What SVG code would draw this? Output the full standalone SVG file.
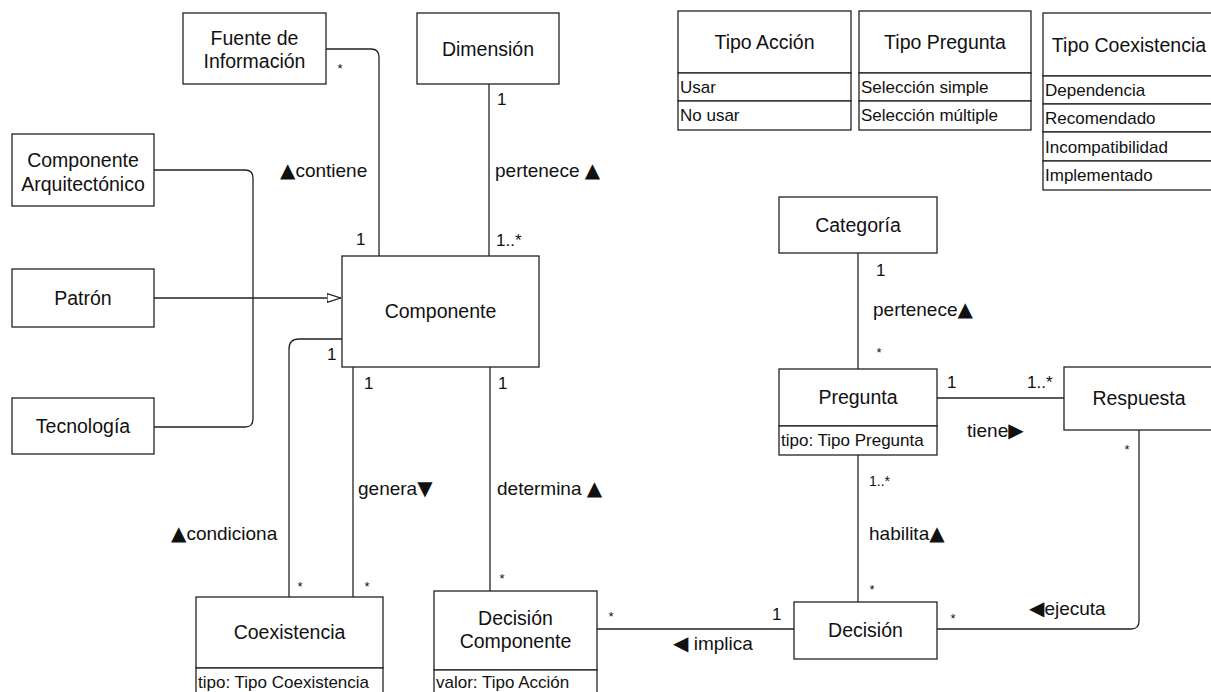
<svg xmlns="http://www.w3.org/2000/svg" width="1211" height="692" viewBox="0 0 1211 692">
  <style>
    text { font-family: "Liberation Sans", Arial, "DejaVu Sans", sans-serif; fill: #111; }
    .box { fill: #fff; stroke: #222; stroke-width: 1.3; }
    .title { font-size: 19.5px; text-anchor: middle; }
    .attr { font-size: 17px; }
    .lbl { font-size: 19px; }
    .card { font-size: 17px; }
    .small { font-size: 14px; }
    .star { font-size: 13px; text-anchor: middle; }
    .tri { font-family: "DejaVu Sans", sans-serif; font-size: 20px; }
    .edge { fill: none; stroke: #222; stroke-width: 1.3; }
  </style>
  <defs>
    <marker id="gen" viewBox="0 0 14 10" refX="14" refY="5" markerWidth="14" markerHeight="10" markerUnits="userSpaceOnUse" orient="auto">
      <path d="M0,0.5 L13.5,5 L0,9.5 Z" fill="#fff" stroke="#222" stroke-width="1.2"/>
    </marker>
  </defs>

  <rect width="1211" height="692" fill="#fff"/>

  <!-- connectors -->
  <g id="connectors">
    <path class="edge" d="M326,49 H371 Q379,49 379,57 V256"/>
    <path class="edge" d="M489,84 V256"/>
    <path class="edge" d="M154,170 H245 Q253,170 253,178 V419 Q253,427 245,427 H154"/>
    <path class="edge" d="M154,298 H341" marker-end="url(#gen)"/>
    <path class="edge" d="M342,339 H299 Q289,339 289,349 V597"/>
    <path class="edge" d="M353,367 V597"/>
    <path class="edge" d="M490,367 V591"/>
    <path class="edge" d="M597,629 H794"/>
    <path class="edge" d="M858,253 V369"/>
    <path class="edge" d="M858,455 V602"/>
    <path class="edge" d="M937,398 H1064"/>
    <path class="edge" d="M937,629 H1131 Q1139,629 1139,621 V430"/>

    <!-- association labels -->
    <text class="lbl" x="280" y="177"><tspan class="tri">▲</tspan>contiene</text>
    <text class="lbl" x="495" y="177">pertenece <tspan class="tri">▲</tspan></text>
    <text class="lbl" x="873" y="316">pertenece<tspan class="tri">▲</tspan></text>
    <text class="lbl" x="967" y="437">tiene<tspan class="tri">▶</tspan></text>
    <text class="lbl" x="869" y="540">habilita<tspan class="tri">▲</tspan></text>
    <text class="lbl" x="1029" y="615"><tspan class="tri">◀</tspan>ejecuta</text>
    <text class="lbl" x="673" y="650"><tspan class="tri">◀</tspan> implica</text>
    <text class="lbl" x="171" y="540"><tspan class="tri">▲</tspan>condiciona</text>
    <text class="lbl" x="358" y="495">genera<tspan class="tri">▼</tspan></text>
    <text class="lbl" x="497" y="495">determina <tspan class="tri">▲</tspan></text>

    <!-- multiplicities -->
    <text class="star" x="340" y="73">*</text>
    <text class="card" x="356" y="245">1</text>
    <text class="card" x="497" y="105">1</text>
    <text class="card" x="496" y="246">1..*</text>
    <text class="card" x="327" y="360">1</text>
    <text class="card" x="364" y="389">1</text>
    <text class="card" x="498" y="389">1</text>
    <text class="star" x="300" y="591">*</text>
    <text class="star" x="367" y="591">*</text>
    <text class="star" x="502" y="583">*</text>
    <text class="star" x="611" y="621">*</text>
    <text class="card" x="772" y="620">1</text>
    <text class="star" x="872" y="594">*</text>
    <text class="small" x="869" y="486">1..*</text>
    <text class="star" x="953" y="623">*</text>
    <text class="star" x="1127" y="454">*</text>
    <text class="card" x="876" y="276">1</text>
    <text class="star" x="879" y="357">*</text>
    <text class="card" x="947" y="388">1</text>
    <text class="card" x="1027" y="388">1..*</text>
  </g>

  <!-- class nodes -->
  <g id="fuente">
    <rect class="box" x="183" y="13" width="143" height="71"/>
    <text class="title" x="254.5" y="45">Fuente de</text>
    <text class="title" x="254.5" y="68">Información</text>
  </g>
  <g id="dimension">
    <rect class="box" x="417" y="13" width="142" height="71"/>
    <text class="title" x="488" y="56">Dimensión</text>
  </g>
  <g id="componente-arquitectonico">
    <rect class="box" x="12" y="134" width="142" height="72"/>
    <text class="title" x="83" y="167">Componente</text>
    <text class="title" x="83" y="191">Arquitectónico</text>
  </g>
  <g id="patron">
    <rect class="box" x="12" y="269" width="142" height="58"/>
    <text class="title" x="83" y="305">Patrón</text>
  </g>
  <g id="tecnologia">
    <rect class="box" x="12" y="398" width="142" height="56"/>
    <text class="title" x="83" y="433">Tecnología</text>
  </g>
  <g id="componente">
    <rect class="box" x="342" y="256" width="197" height="111"/>
    <text class="title" x="440.5" y="318">Componente</text>
  </g>
  <g id="coexistencia">
    <rect class="box" x="196" y="597" width="187" height="71"/>
    <rect class="box" x="196" y="668" width="187" height="40"/>
    <text class="title" x="289.5" y="639">Coexistencia</text>
    <text class="attr" x="198" y="688">tipo: Tipo Coexistencia</text>
  </g>
  <g id="decision-componente">
    <rect class="box" x="434" y="591" width="163" height="79"/>
    <rect class="box" x="434" y="670" width="163" height="40"/>
    <text class="title" x="515.5" y="625">Decisión</text>
    <text class="title" x="515.5" y="648">Componente</text>
    <text class="attr" x="436" y="688">valor: Tipo Acción</text>
  </g>
  <g id="decision">
    <rect class="box" x="794" y="602" width="143" height="57"/>
    <text class="title" x="865.5" y="637">Decisión</text>
  </g>
  <g id="categoria">
    <rect class="box" x="779" y="197" width="158" height="56"/>
    <text class="title" x="858" y="232">Categoría</text>
  </g>
  <g id="pregunta">
    <rect class="box" x="779" y="369" width="158" height="57"/>
    <rect class="box" x="779" y="426" width="158" height="29"/>
    <text class="title" x="858" y="404">Pregunta</text>
    <text class="attr" x="781" y="446">tipo: Tipo Pregunta</text>
  </g>
  <g id="respuesta">
    <rect class="box" x="1064" y="367" width="150" height="63"/>
    <text class="title" x="1139" y="405">Respuesta</text>
  </g>

  <!-- enumerations -->
  <g id="tipo-accion">
    <rect class="box" x="678" y="11" width="173" height="62"/>
    <rect class="box" x="678" y="73" width="173" height="28"/>
    <rect class="box" x="678" y="101" width="173" height="29"/>
    <text class="title" x="764.5" y="49">Tipo Acción</text>
    <text class="attr" x="680" y="93">Usar</text>
    <text class="attr" x="680" y="121">No usar</text>
  </g>
  <g id="tipo-pregunta">
    <rect class="box" x="859" y="11" width="172" height="62"/>
    <rect class="box" x="859" y="73" width="172" height="28"/>
    <rect class="box" x="859" y="101" width="172" height="29"/>
    <text class="title" x="945" y="49">Tipo Pregunta</text>
    <text class="attr" x="861" y="93">Selección simple</text>
    <text class="attr" x="861" y="121">Selección múltiple</text>
  </g>
  <g id="tipo-coexistencia">
    <rect class="box" x="1043" y="13" width="172" height="63"/>
    <rect class="box" x="1043" y="76" width="172" height="28"/>
    <rect class="box" x="1043" y="104" width="172" height="28"/>
    <rect class="box" x="1043" y="132" width="172" height="29"/>
    <rect class="box" x="1043" y="161" width="172" height="29"/>
    <text class="title" x="1129" y="52">Tipo Coexistencia</text>
    <text class="attr" x="1045" y="96">Dependencia</text>
    <text class="attr" x="1045" y="124">Recomendado</text>
    <text class="attr" x="1045" y="153">Incompatibilidad</text>
    <text class="attr" x="1045" y="181">Implementado</text>
  </g>
</svg>
